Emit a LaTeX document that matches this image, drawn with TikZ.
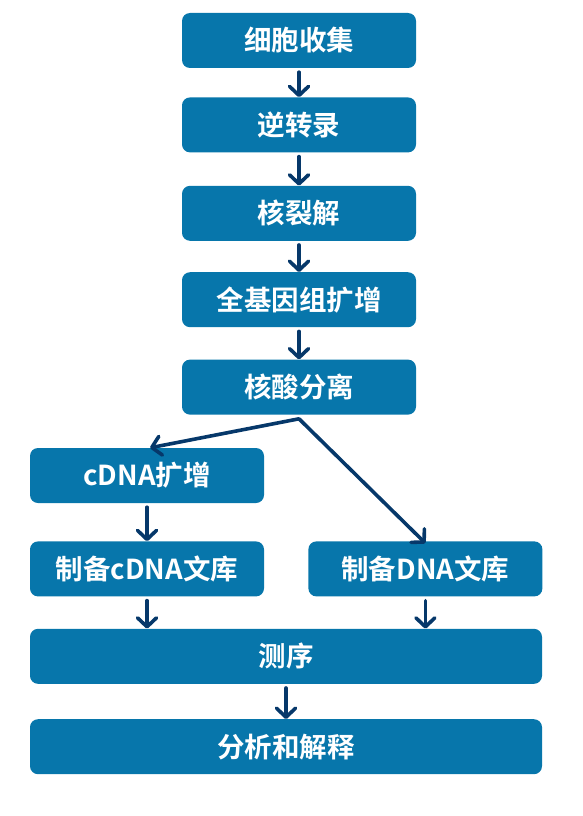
\documentclass[tikz,border=0pt]{standalone}
\usepackage{fontspec}
\setmainfont{Noto Sans CJK SC}[BoldFont={Noto Sans CJK SC Bold}]
\usetikzlibrary{positioning,arrows.meta}
\definecolor{boxblue}{HTML}{0776AB}
\definecolor{arrownavy}{HTML}{06386A}

\begin{document}
\begin{tikzpicture}[x=1pt,y=-1pt,node distance=33pt,
  >={Straight Barb[length=9pt,width=19pt,line cap=round,line join=round]},
  box/.style={fill=boxblue,rounded corners=8pt,align=center,text=white,
    font=\fontsize{27.5}{32}\selectfont\bfseries,minimum height=55pt,inner sep=0pt},
  proc/.style={box,minimum width=234pt}, wide/.style={box,minimum width=512pt},
  flow/.style={->,draw=arrownavy,line width=3.6pt,line cap=round,shorten <=4pt}]
\useasboundingbox (0,0) rectangle (582,816);
\node[proc] (cell) at (299,40.5) {细胞收集};
\node[proc,below=29pt of cell] (rt) {逆转录};
\node[proc,below=33pt of rt] (lysis) {核裂解};
\node[proc,below=31pt of lysis] (wga) {全基因组扩增};
\node[proc,below=32pt of wga] (sep) {核酸分离};
\node[proc,below=33pt of sep,xshift=-152pt] (camp) {cDNA扩增};
\node[proc,below=38pt of camp] (clib) {制备cDNA文库};
\node[proc,right=44pt of clib] (dlib) {制备DNA文库};
\node[wide,below=32pt of clib.south west,anchor=north west] (seq) {测序};
\node[wide,below=35pt of seq] (ana) {分析和解释};
\coordinate[below=4pt of sep] (split);
\draw[flow] (cell) -- (rt);
\draw[flow] (rt) -- (lysis);
\draw[flow] (lysis) -- (wga);
\draw[flow] (wga) -- (sep);
\draw[flow,shorten <=0pt] (split) -- ([xshift=3pt]camp.north);
\draw[flow,shorten <=0pt] (split) -- ([yshift=-2pt]dlib.north);
\draw[flow] (camp) -- (clib);
\draw[flow] (clib.south) -- (clib.south |- seq.north);
\draw[flow] (dlib.south) -- (dlib.south |- seq.north);
\draw[flow] (seq) -- (ana);
\end{tikzpicture}
\end{document}
